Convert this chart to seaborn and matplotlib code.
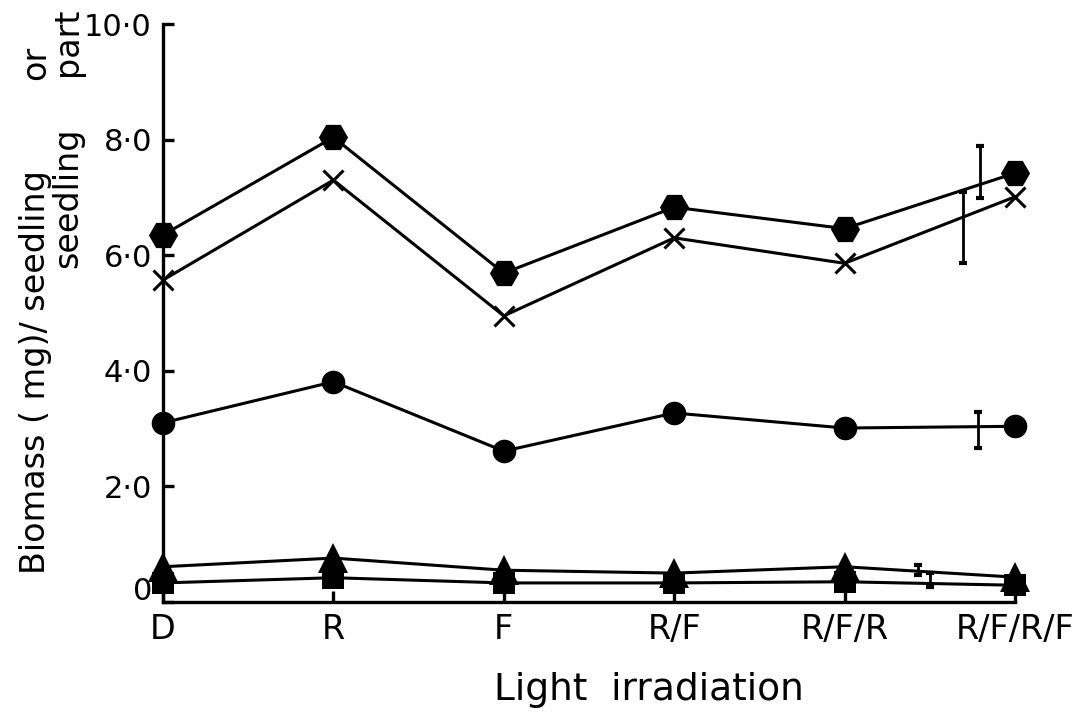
import matplotlib
matplotlib.use("Agg")
import matplotlib.pyplot as plt
import seaborn as sns
from matplotlib import font_manager as fm
from matplotlib.transforms import ScaledTranslation

# ---------------- data ----------------
categories = ["D", "R", "F", "R/F", "R/F/R", "R/F/R/F"]
hexagon_vals = [6.35, 8.04, 5.69, 6.83, 6.46, 7.42]
cross_vals = [5.57, 7.30, 4.95, 6.30, 5.86, 7.01]
circle_vals = [3.10, 3.81, 2.61, 3.27, 3.01, 3.04]
triangle_vals = [0.61, 0.76, 0.55, 0.50, 0.61, 0.43]
square_vals = [0.33, 0.42, 0.33, 0.33, 0.35, 0.29]

# error bars drawn beside the last treatment (low, high) for each series
err_low = [6.99, 5.87, 2.66, 0.47, 0.26]
err_high = [7.89, 7.09, 3.29, 0.64, 0.50]

ytick_values = [0, 2, 4, 6, 8, 10]
ytick_labels = ["0", "2·0", "4·0", "6·0", "8·0", "10·0"]

# ---------------- style ----------------
sns.set_style("ticks")
plt.rcParams["font.family"] = ["DejaVu Sans"]

installed = {f.name for f in fm.fontManager.ttflist}
if "Liberation Sans Narrow" in installed:
    tick_family, ytick_size, xtick_size = "Liberation Sans Narrow", 27, 30
else:
    tick_family, ytick_size, xtick_size = "DejaVu Sans", 22, 24

W, H = 1076, 715
fig = plt.figure(figsize=(W / 100, H / 100), dpi=100)
ax = fig.add_axes([163 / W, 1 - 602 / H, (1015 - 163) / W, (602 - 24) / H])

series = [
    (hexagon_vals, "H", 21, 0),
    (cross_vals, "x", 14, 2.2),
    (circle_vals, "o", 17, 0),
    (triangle_vals, "^", 21, 0),
    (square_vals, "s", 16, 0),
]
for vals, mk, ms, mew in series:
    sns.lineplot(x=categories, y=vals, ax=ax, color="black", linewidth=2.2,
                 marker=mk, markersize=ms, markeredgewidth=mew,
                 markeredgecolor="black", markerfacecolor="black",
                 clip_on=False, zorder=3, sort=False)

# error bars (positions offset left of the last category)
err_x = [4.795, 4.695, 4.78, 4.43, 4.50]
for xpos, lo, hi in zip(err_x, err_low, err_high):
    mid = (lo + hi) / 2
    ax.errorbar([xpos], [mid], yerr=[[mid - lo], [hi - mid]], fmt="none",
                ecolor="black", elinewidth=2.0, capsize=3, capthick=3,
                clip_on=False, zorder=4)

ax.set_xlim(0, 5)
ax.set_ylim(0, 10)
ax.set_yticks(ytick_values)
ax.set_yticklabels(ytick_labels)
ax.set_xticks(range(len(categories)))
ax.set_xticklabels(categories)
ax.set_xlabel("")
ax.set_ylabel("")

sns.despine(ax=ax)
for s in ["left", "bottom"]:
    ax.spines[s].set_linewidth(2.4)
    ax.spines[s].set_color("black")

ax.tick_params(axis="y", direction="in", length=8, width=2.4, pad=8,
               labelsize=ytick_size, colors="black")
ax.tick_params(axis="x", direction="in", length=8, width=2.4, pad=8,
               labelsize=xtick_size, colors="black")
for lbl in ax.get_xticklabels() + ax.get_yticklabels():
    lbl.set_fontfamily(tick_family)

# raise the "0" label slightly as in the reference
lbl0 = ax.yaxis.get_major_ticks()[0].label1
lbl0.set_transform(lbl0.get_transform() +
                   ScaledTranslation(0, 14 / 100, fig.dpi_scale_trans))

# axis titles
fig.text(649 / W, 1 - 690 / H, "Light  irradiation", ha="center", va="center",
         fontsize=27, color="black")

def ylab(x_px, y_px, s):
    fig.text(x_px / W, 1 - y_px / H, s, rotation=90, rotation_mode="anchor",
             ha="left", va="baseline", fontsize=24, color="black")

ylab(45, 574, "Biomass ( mg)/ seedling")
ylab(45, 80, "or")
ylab(77, 268, "seedling")
ylab(77, 76, "part")

fig.savefig("out.png", dpi=100)
